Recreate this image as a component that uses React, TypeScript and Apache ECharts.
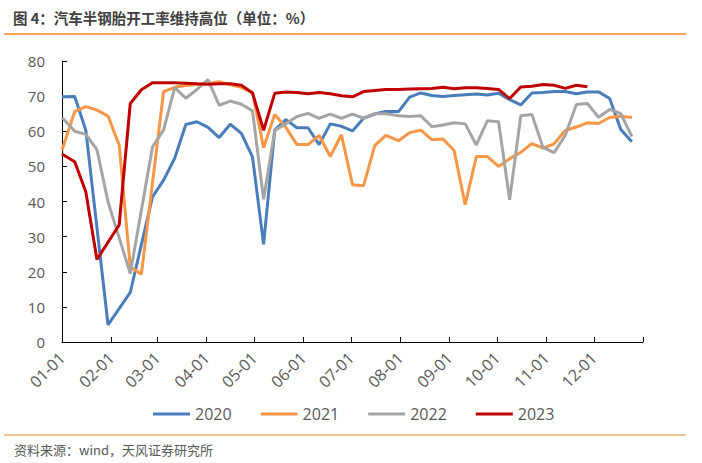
import React, { useEffect, useRef } from "react";
import * as echarts from "echarts";

// x-axis: day-of-year positions (0 .. 366), ticks at month starts
const monthLabels = ["01-01", "02-01", "03-01", "04-01", "05-01", "06-01", "07-01", "08-01", "09-01", "10-01", "11-01", "12-01"];
const monthStartDays = [0, 31, 60, 91, 121, 152, 182, 213, 244, 274, 305, 335];
const axisEndDay = 366;

const seriesNames = ["2020", "2021", "2022", "2023"];
const seriesColors = ["#4A7EBB", "#F79646", "#A5A5A5", "#C00000"];

// day-of-year of each weekly observation
const weekDays = [0, 8, 15, 22, 29, 36, 43, 50, 57, 64, 71, 78, 85, 92, 99, 106, 113, 120, 127, 134, 141, 148, 155, 162, 169, 176, 183, 190, 197, 204, 212, 219, 226, 233, 240, 247, 254, 261, 268, 275, 282, 289, 296, 303, 310, 317, 324, 331, 338, 345, 352, 359];

const values2020 = [69.8, 69.9, 60.3, null, 4.9, null, 14.1, null, 41.3, 46.1, 52.3, 61.9, 62.7, 61.1, 58.2, 62.0, 59.4, 52.7, 27.8, 60.3, 63.3, 61.0, 61.0, 56.2, 62.1, 61.4, 60.1, 63.7, 64.9, 65.6, 65.6, 69.7, 70.9, 70.2, 69.9, 70.2, 70.4, 70.6, 70.3, 70.8, 69.0, 67.5, 70.9, 71.0, 71.3, 71.3, 70.7, 71.2, 71.2, 69.3, 60.5, 57.0];
const values2021 = [54.6, 65.6, 67.0, 66.0, 64.3, 56.1, 21.4, 19.3, null, 71.3, 72.5, 73.0, 73.3, 73.5, 74.1, 73.2, 72.5, 71.0, 55.3, 64.8, 61.1, 56.2, 56.2, 58.8, 52.8, 59.0, 44.8, 44.5, 55.9, 58.8, 57.3, 59.6, 60.3, 57.6, 57.8, 54.5, 39.1, 52.8, 52.8, 50.0, 52.2, 54.0, 56.5, 55.2, 56.4, 60.2, 61.2, 62.4, 62.2, 63.9, 64.3, 63.9];
const values2022 = [63.9, 60.0, 59.1, 54.8, 39.9, null, 19.5, null, 55.5, 60.4, 72.4, 69.4, 71.9, 74.7, 67.4, 68.6, 67.7, 65.8, 40.6, 60.2, 62.1, 64.2, 65.1, 63.7, 64.9, 63.7, 64.9, 63.7, 65.0, 65.0, 64.4, 64.2, 64.4, 61.3, 61.8, 62.4, 62.1, 56.1, 63.0, 62.7, 40.5, 64.4, 64.8, 55.4, 53.9, 58.8, 67.6, 67.9, 64.0, 66.2, 65.0, 58.5];
const values2023 = [53.5, 51.3, 42.8, 23.5, null, 33.3, 67.9, 71.8, 73.8, 73.8, 73.8, 73.7, 73.5, 73.4, 73.5, 73.5, 73.1, 70.9, 60.3, 70.8, 71.2, 71.0, 70.7, 71.0, 70.7, 70.1, 69.8, 71.3, 71.6, 71.9, 71.9, 72.0, 72.1, 72.2, 72.5, 72.1, 72.4, 72.4, 72.2, 71.9, 69.3, 72.6, 72.8, 73.3, 73.1, 72.2, 73.1, 72.7];

const allValues = [values2020, values2021, values2022, values2023];

const yMin = 0;
const yMax = 80;
const yInterval = 10;

const titleText = "图 4：汽车半钢胎开工率维持高位（单位：%）";
const sourceText = "资料来源：wind，天风证券研究所";

export default function App() {
  const ref = useRef<HTMLDivElement>(null);

  useEffect(() => {
    if (!ref.current) return;
    const chart = echarts.init(ref.current, null, { renderer: "svg" });

    const categories: string[] = [];
    for (let d = 0; d <= axisEndDay; d++) categories.push(String(d));
    const tickDays = monthStartDays.concat([axisEndDay]);

    const series = seriesNames.map((name, si) => ({
      name,
      type: "line",
      data: allValues[si].map((v, i) => [weekDays[i], v]),
      showSymbol: false,
      symbol: "none",
      connectNulls: true,
      lineStyle: { color: seriesColors[si], width: 3 },
      itemStyle: { color: seriesColors[si] },
      z: 2 + si,
    }));

    const option = {
      animation: false,
      grid: { left: 62, right: 59, top: 61, bottom: 121, containLabel: false },
      xAxis: {
        type: "category",
        boundaryGap: false,
        data: categories,
        axisLine: { show: true, lineStyle: { color: "#000000", width: 1 } },
        axisTick: {
          show: true,
          inside: true,
          length: 5,
          interval: (i: number) => tickDays.indexOf(i) >= 0,
          lineStyle: { color: "#000000", width: 1 },
        },
        axisLabel: {
          interval: (i: number) => monthStartDays.indexOf(i) >= 0,
          formatter: (v: string) => {
            const idx = monthStartDays.indexOf(Number(v));
            return idx >= 0 ? monthLabels[idx] : "";
          },
          rotate: 45,
          margin: 13,
          color: "#595959",
          fontSize: 16,
          fontFamily: "Open Sans",
        },
        splitLine: { show: false },
      },
      yAxis: {
        type: "value",
        min: yMin,
        max: yMax,
        interval: yInterval,
        axisLine: { show: true, lineStyle: { color: "#000000", width: 1 } },
        axisTick: { show: true, inside: true, length: 5, lineStyle: { color: "#000000" } },
        splitLine: { show: false },
        axisLabel: { color: "#595959", fontSize: 15, margin: 17, fontFamily: "Open Sans" },
      },
      legend: {
        data: seriesNames,
        left: 148,
        top: 401,
        icon: "rect",
        itemWidth: 37,
        itemHeight: 3,
        itemGap: 29,
        textStyle: { color: "#595959", fontSize: 16, fontFamily: "Open Sans" },
      },
      graphic: [
        {
          type: "text",
          left: 13,
          top: 10,
          style: {
            text: titleText,
            fontSize: 14.5,
            fontWeight: "bold",
            fill: "#404040",
            fontFamily: "Noto Sans CJK SC",
          },
        },
        {
          type: "line",
          shape: { x1: 4, y1: 34, x2: 686, y2: 34 },
          style: { stroke: "#F0892A", lineWidth: 1.5 },
        },
        {
          type: "line",
          shape: { x1: 4, y1: 435, x2: 686, y2: 435 },
          style: { stroke: "#F0892A", lineWidth: 1.2 },
        },
        {
          type: "text",
          left: 14,
          top: 443,
          style: {
            text: sourceText,
            fontSize: 13,
            fill: "#595959",
            fontFamily: "Noto Sans CJK SC",
          },
        },
      ],
      series,
    };

    chart.setOption(option as any);
    return () => chart.dispose();
  }, []);

  return (
    <div
      ref={ref}
      style={{ position: "fixed", left: 0, top: 0, width: 702, height: 463, background: "#ffffff" }}
    />
  );
}
